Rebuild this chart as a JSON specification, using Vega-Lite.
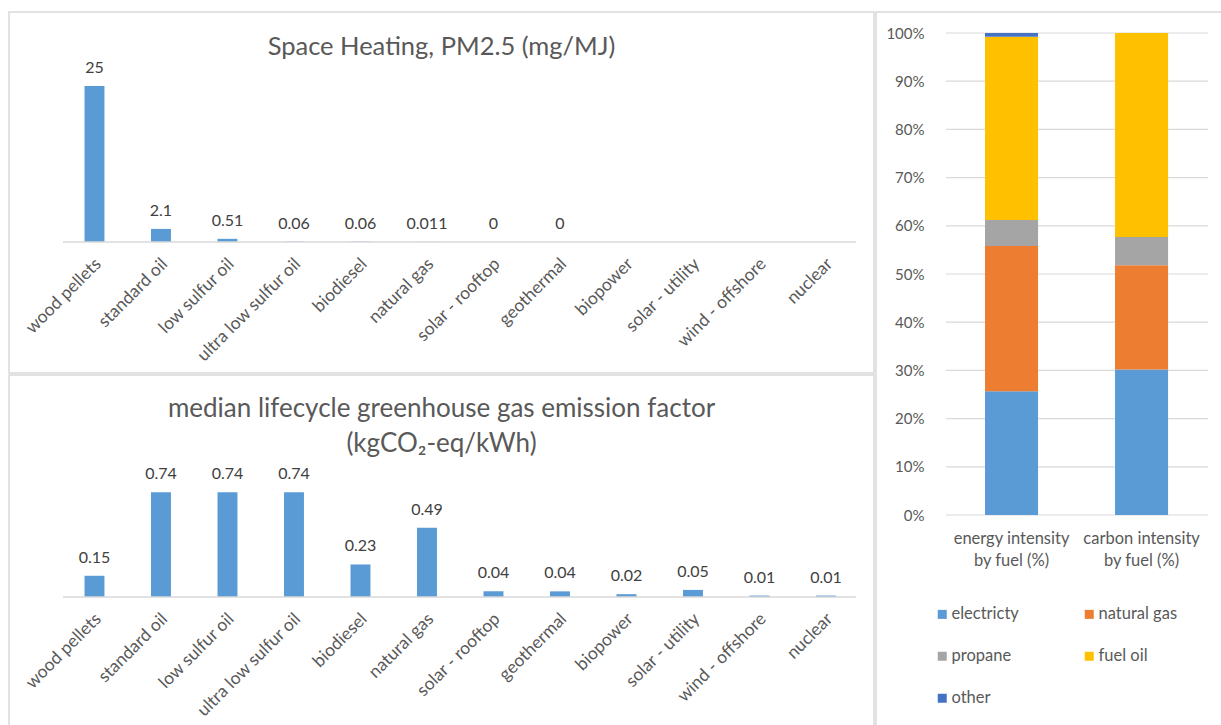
{
  "$schema": "https://vega.github.io/schema/vega-lite/v6.json",
  "padding": {"left": 8, "top": 11, "right": 0, "bottom": 0},
  "background": "white",
  "config": {
    "font": "Lato",
    "view": {"stroke": "#d9d9d9", "strokeWidth": 1.5},
    "concat": {"spacing": 0},
    "axis": {"labelColor": "#595959", "labelFont": "Lato"},
    "title": {"color": "#595959", "fontWeight": "normal", "font": "Lato"}
  },
  "datasets": {
    "fuels": [
      {"fuel": "wood pellets", "pm": 25, "ghg": 0.15},
      {"fuel": "standard oil", "pm": 2.1, "ghg": 0.74},
      {"fuel": "low sulfur oil", "pm": 0.51, "ghg": 0.74},
      {"fuel": "ultra low sulfur oil", "pm": 0.06, "ghg": 0.74},
      {"fuel": "biodiesel", "pm": 0.06, "ghg": 0.23},
      {"fuel": "natural gas", "pm": 0.011, "ghg": 0.49},
      {"fuel": "solar - rooftop", "pm": 0, "ghg": 0.04},
      {"fuel": "geothermal", "pm": 0, "ghg": 0.04},
      {"fuel": "biopower", "pm": null, "ghg": 0.02},
      {"fuel": "solar - utility", "pm": null, "ghg": 0.05},
      {"fuel": "wind - offshore", "pm": null, "ghg": 0.01},
      {"fuel": "nuclear", "pm": null, "ghg": 0.01}
    ],
    "shares": [
      {"metric": "energy intensity by fuel (%)", "fuel": "electricty", "idx": 1, "pct": 0.257},
      {"metric": "energy intensity by fuel (%)", "fuel": "natural gas", "idx": 2, "pct": 0.301},
      {"metric": "energy intensity by fuel (%)", "fuel": "propane", "idx": 3, "pct": 0.054},
      {"metric": "energy intensity by fuel (%)", "fuel": "fuel oil", "idx": 4, "pct": 0.380},
      {"metric": "energy intensity by fuel (%)", "fuel": "other", "idx": 5, "pct": 0.008},
      {"metric": "carbon intensity by fuel (%)", "fuel": "electricty", "idx": 1, "pct": 0.302},
      {"metric": "carbon intensity by fuel (%)", "fuel": "natural gas", "idx": 2, "pct": 0.216},
      {"metric": "carbon intensity by fuel (%)", "fuel": "propane", "idx": 3, "pct": 0.059},
      {"metric": "carbon intensity by fuel (%)", "fuel": "fuel oil", "idx": 4, "pct": 0.423},
      {"metric": "carbon intensity by fuel (%)", "fuel": "other", "idx": 5, "pct": 0.0}
    ],
    "grid": [
      {"t": 0}, {"t": 0.1}, {"t": 0.2}, {"t": 0.3}, {"t": 0.4}, {"t": 0.5},
      {"t": 0.6}, {"t": 0.7}, {"t": 0.8}, {"t": 0.9}, {"t": 1}
    ],
    "one": [{"k": 1}]
  },
  "spacing": 0,
  "hconcat": [
    {
      "spacing": 0,
      "vconcat": [
        {
          "width": 865,
          "height": 361,
          "title": {"text": "Space Heating, PM2.5 (mg/MJ)", "fontSize": 25.5, "anchor": "middle", "frame": "group", "baseline": "middle", "offset": -60},
          "layer": [
            {
              "data": {"name": "fuels"},
              "encoding": {
                "x": {"field": "fuel", "type": "nominal", "sort": null,
                  "scale": {"domain": ["wood pellets","standard oil","low sulfur oil","ultra low sulfur oil","biodiesel","natural gas","solar - rooftop","geothermal","biopower","solar - utility","wind - offshore","nuclear"], "paddingInner": 0.7, "paddingOuter": 0.8538, "align": 0.665},
                  "axis": {"orient": "bottom", "offset": -131, "title": null, "domain": false, "ticks": false, "tickSize": 0, "labelAngle": -45, "labelAlign": "right", "labelBaseline": "middle", "labelPadding": 19, "labelOffset": 4, "labelFontSize": 17.5, "labelLimit": 300}},
                "y": {"field": "pm", "type": "quantitative", "scale": {"domain": [-20.99, 36.86], "nice": false, "zero": false}, "axis": null}
              },
              "layer": [
                {"mark": {"type": "bar", "color": "#5B9BD5"}, "encoding": {"y2": {"datum": 0}}},
                {"mark": {"type": "text", "baseline": "alphabetic", "dy": -13, "fontSize": 16, "color": "#404040"},
                 "encoding": {"text": {"field": "pm", "type": "quantitative", "format": "~g"}}}
              ]
            },
            {
              "data": {"name": "one"},
              "mark": {"type": "rule", "color": "#d9d9d9", "strokeWidth": 1.5},
              "encoding": {
                "x": {"datum": -0.5, "type": "quantitative", "scale": {"domain": [-1.317, 11.773], "nice": false, "zero": false}, "axis": null},
                "x2": {"datum": 11.5},
                "y": {"datum": 0, "type": "quantitative"}
              }
            }
          ],
          "resolve": {"scale": {"x": "independent"}, "axis": {"x": "independent"}}
        },
        {
          "width": 865,
          "height": 355,
          "title": {"text": ["median lifecycle greenhouse gas emission factor", "(kgCO₂-eq/kWh)"], "fontSize": 26, "lineHeight": 35, "anchor": "middle", "frame": "group", "baseline": "middle", "offset": -95},
          "layer": [
            {
              "data": {"name": "fuels"},
              "encoding": {
                "x": {"field": "fuel", "type": "nominal", "sort": null,
                  "scale": {"domain": ["wood pellets","standard oil","low sulfur oil","ultra low sulfur oil","biodiesel","natural gas","solar - rooftop","geothermal","biopower","solar - utility","wind - offshore","nuclear"], "paddingInner": 0.7, "paddingOuter": 0.8538, "align": 0.665},
                  "axis": {"orient": "bottom", "offset": -133, "title": null, "domain": false, "ticks": false, "tickSize": 0, "labelAngle": -45, "labelAlign": "right", "labelBaseline": "middle", "labelPadding": 19, "labelOffset": 4, "labelFontSize": 17.5, "labelLimit": 300}},
                "y": {"field": "ghg", "type": "quantitative", "scale": {"domain": [-0.94, 1.569], "nice": false, "zero": false}, "axis": null}
              },
              "layer": [
                {"mark": {"type": "bar", "color": "#5B9BD5"}, "encoding": {"y2": {"datum": 0}}},
                {"mark": {"type": "text", "baseline": "alphabetic", "dy": -13, "fontSize": 16, "color": "#404040"},
                 "encoding": {"text": {"field": "ghg", "type": "quantitative", "format": "~g"}}}
              ]
            },
            {
              "data": {"name": "one"},
              "mark": {"type": "rule", "color": "#d9d9d9", "strokeWidth": 1.5},
              "encoding": {
                "x": {"datum": -0.5, "type": "quantitative", "scale": {"domain": [-1.317, 11.773], "nice": false, "zero": false}, "axis": null},
                "x2": {"datum": 11.5},
                "y": {"datum": 0, "type": "quantitative"}
              }
            }
          ],
          "resolve": {"scale": {"x": "independent"}, "axis": {"x": "independent"}}
        }
      ]
    },
    {
      "width": 350,
      "height": 715,
      "layer": [
        {
          "data": {"name": "grid"},
          "mark": {"type": "rule", "color": "#d9d9d9", "strokeWidth": 1.2},
          "encoding": {
            "x": {"datum": 0, "type": "quantitative", "scale": {"domain": [-0.2672, 1.0687], "nice": false, "zero": false}, "axis": null},
            "x2": {"datum": 1},
            "y": {"field": "t", "type": "quantitative", "scale": {"domain": [-0.4398, 1.04357], "nice": false, "zero": false},
              "axis": {"values": [0, 0.1, 0.2, 0.3, 0.4, 0.5, 0.6, 0.7, 0.8, 0.9, 1], "format": ".0%", "offset": -60, "domain": false, "ticks": false, "tickSize": 0, "grid": false, "labelPadding": 12, "title": null, "labelFontSize": 15}}
          }
        },
        {
          "data": {"name": "shares"},
          "mark": {"type": "bar"},
          "encoding": {
            "x": {"field": "metric", "type": "nominal", "sort": null,
              "scale": {"domain": ["energy intensity by fuel (%)", "carbon intensity by fuel (%)"], "paddingInner": 0.592, "paddingOuter": 0.642, "align": 0.653},
              "axis": {"orient": "bottom", "offset": -212, "title": null, "domain": false, "ticks": false, "tickSize": 0, "labelAngle": 0, "labelBaseline": "top", "labelPadding": 15, "labelFontSize": 16.5, "labelLineHeight": 22,
                "labelExpr": "datum.value == 'energy intensity by fuel (%)' ? ['energy intensity', 'by fuel (%)'] : ['carbon intensity', 'by fuel (%)']"}},
            "y": {"field": "pct", "type": "quantitative", "stack": "zero",
              "axis": {"values": [0, 0.1, 0.2, 0.3, 0.4, 0.5, 0.6, 0.7, 0.8, 0.9, 1], "format": ".0%", "offset": -60, "domain": false, "ticks": false, "tickSize": 0, "grid": false, "labelPadding": 12, "title": null, "labelFontSize": 15}},
            "color": {"field": "fuel", "type": "nominal",
              "scale": {"domain": ["electricty", "natural gas", "propane", "fuel oil", "other"], "range": ["#5B9BD5", "#ED7D31", "#A5A5A5", "#FFC000", "#4472C4"]},
              "legend": {"orient": "none", "legendX": 925, "legendY": 594, "direction": "horizontal", "title": null, "columns": 2, "columnPadding": 62, "rowPadding": 25, "symbolType": "square", "symbolSize": 81, "symbolStrokeWidth": 0, "labelFontSize": 16.5, "labelColor": "#595959", "labelOffset": 1}},
            "order": {"field": "idx", "type": "quantitative"}
          }
        }
      ],
      "resolve": {"scale": {"x": "independent"}, "axis": {"x": "independent"}}
    }
  ]
}
